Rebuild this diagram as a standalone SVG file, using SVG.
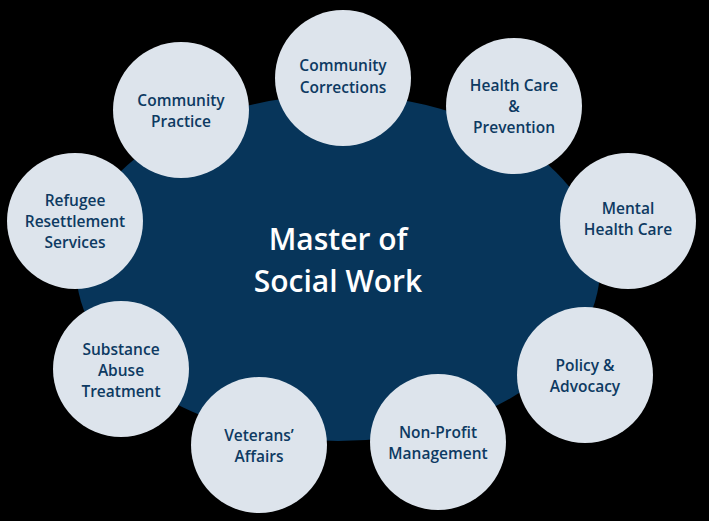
<svg xmlns="http://www.w3.org/2000/svg" width="709" height="521" viewBox="0 0 709 521">
<style>
.c{fill:#dde4ec}
.t{font-family:"Open Sans","Liberation Sans",sans-serif;font-size:15.5px;fill:#0d3a62;text-anchor:middle;font-weight:600}
.m{font-family:"Open Sans","Liberation Sans",sans-serif;font-size:30px;fill:#fff;text-anchor:middle;font-weight:600}
</style>
<rect width="709" height="521" fill="#000"/>
<g id="center"><ellipse cx="338" cy="268" rx="262" ry="173" fill="#07355a"/>
<text class="m" x="338" y="250">Master of</text><text class="m" x="338" y="292">Social Work</text></g>
<g id="corrections"><circle class="c" cx="343" cy="78" r="68"/><text class="t" x="343" y="71">Community</text><text class="t" x="343" y="93">Corrections</text></g>
<g id="health"><circle class="c" cx="514" cy="106" r="68"/><text class="t" x="514" y="91">Health Care</text><text class="t" x="514" y="112">&amp;</text><text class="t" x="514" y="133">Prevention</text></g>
<g id="mental"><circle class="c" cx="628" cy="221" r="68"/><text class="t" x="628" y="214">Mental</text><text class="t" x="628" y="235">Health Care</text></g>
<g id="policy"><circle class="c" cx="585" cy="375" r="68"/><text class="t" x="585" y="371">Policy &amp;</text><text class="t" x="585" y="392">Advocacy</text></g>
<g id="nonprofit"><circle class="c" cx="438" cy="442" r="68"/><text class="t" x="438" y="438">Non-Profit</text><text class="t" x="438" y="459">Management</text></g>
<g id="veterans"><circle class="c" cx="259" cy="445" r="68"/><text class="t" x="259" y="441">Veterans’</text><text class="t" x="259" y="462">Affairs</text></g>
<g id="substance"><circle class="c" cx="121" cy="369" r="68"/><text class="t" x="121" y="355">Substance</text><text class="t" x="121" y="376">Abuse</text><text class="t" x="121" y="397">Treatment</text></g>
<g id="refugee"><circle class="c" cx="75" cy="221" r="68"/><text class="t" x="75" y="206">Refugee</text><text class="t" x="75" y="227">Resettlement</text><text class="t" x="75" y="248">Services</text></g>
<g id="practice"><circle class="c" cx="181" cy="110" r="68"/><text class="t" x="181" y="106">Community</text><text class="t" x="181" y="127">Practice</text></g>
<g id="connectors"/>
</svg>
